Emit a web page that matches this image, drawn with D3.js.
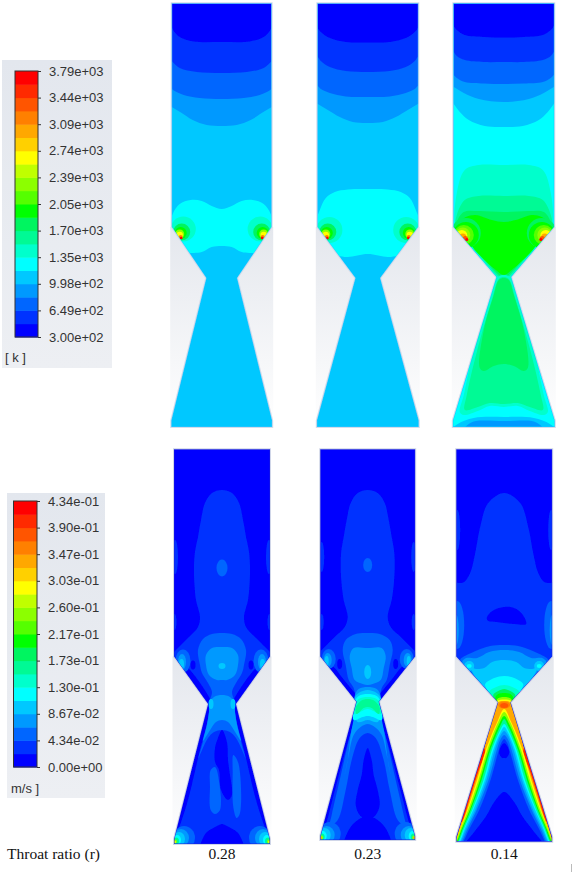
<!DOCTYPE html>
<html>
<head>
<meta charset="utf-8">
<script src="https://cdnjs.cloudflare.com/ajax/libs/d3/7.8.5/d3.min.js"></script>
<style>
  html, body { margin: 0; padding: 0; background: #fff; }
  svg { display: block; }
  .tick text { font-family: "Liberation Sans", Arial, sans-serif; font-size: 13px; fill: #333; }
</style>
</head>
<body>
<div id="chart"></div>
<script>
// colour bands of the solver legend, low to high
const bandColors = ["#0000ff", "#0033ff", "#0066ff", "#0099ff", "#00c8ff", "#00ffff", "#00ffcc", "#00fa95", "#00f560", "#00ff00",
  "#55ff00", "#8cff00", "#c0ff00", "#ffff00", "#ffd000", "#ffa800", "#ff8000", "#ff5500", "#ff2a00", "#ff0000"];
const tempTicks = ["3.00e+02", "6.49e+02", "9.98e+02", "1.35e+03", "1.70e+03", "2.05e+03", "2.39e+03", "2.74e+03", "3.09e+03", "3.44e+03", "3.79e+03"];
const velTicks = ["0.00e+00", "4.34e-02", "8.67e-02", "1.30e-01", "1.73e-01", "2.17e-01", "2.60e-01", "3.03e-01", "3.47e-01", "3.90e-01", "4.34e-01"];
const throatRatios = ["0.28", "0.23", "0.14"];

// contour layers, painted in order: [band, halfOutline] is mirrored about the axis,
// [band, outline, "twin"] is copied on both sides, [band, outline, "free"] is used as is,
// [band, dx, y, rx, ry] is an oval (mirrored if dx is not 0)
const tempTop1 = [
  [3, [[0,126],[15,125],[29,120],[40,113],[50,107],[62,100],[62,-10],[0,-10]]],
  [2, [[0,99],[22,98],[38,95],[47,91],[50,89],[60,80],[60,-10],[0,-10]]],
  [1, [[0,73],[25,72],[42,68],[50,61],[58,50],[58,-10],[0,-10]]],
  [0, [[0,42],[28,41.5],[42,37],[48,31],[50,27],[55,15],[55,-10],[0,-10]]],
  [5, [[0,209],[10,206],[20,201],[31,200],[42,204],[49,214],[52,230],[40,253],[35,253],[20,252],[10,247],[0,246]]],
  [6, 38.4, 229, 12.5, 12.5], [8, 40, 232, 8.5, 8.5], [9, 41, 233, 6, 6], [11, 42, 234, 4.5, 4.5],
  [13, 42, 235, 3.2, 3.2], [16, 41, 237, 2, 2], [19, 40.5, 238, 1.3, 1.3]
];
const tempTop2 = [
  [3, [[0,123],[15,122],[28,117],[40,110],[50,104],[62,97],[62,-10],[0,-10]]],
  [2, [[0,97],[22,96.5],[38,93],[47,89],[50,86],[60,78],[60,-10],[0,-10]]],
  [1, [[0,72],[22,71],[38,67],[47,61],[50,57],[58,47],[58,-10],[0,-10]]],
  [0, [[0,42.5],[22,42],[38,38],[47,32],[50,28],[55,15],[55,-10],[0,-10]]],
  [5, [[0,189],[20,189.5],[33,192],[42,198],[48,210],[53,228],[40,255],[30,256],[20,257],[0,254]]],
  [6, 38.4, 230, 13, 13], [8, 40, 232, 8.5, 8.5], [9, 41, 233, 6, 6], [11, 42, 234, 4.5, 4.5],
  [13, 42, 235, 3.2, 3.2], [16, 41, 237, 2, 2], [19, 40.5, 238, 1.3, 1.3]
];
const tempTop3 = [
  [4, [[0,127],[19,126],[35,120],[44,112],[50,104],[62,90],[62,-10],[0,-10]]],
  [3, [[0,102],[25,99],[40,93],[50,87],[62,80],[62,-10],[0,-10]]],
  [2, [[0,84],[20,83.5],[39,82],[47,78],[50,75],[60,65],[60,-10],[0,-10]]],
  [1, [[0,62],[20,62],[39,60],[47,56],[50,52],[60,40],[60,-10],[0,-10]]],
  [0, [[0,37.5],[20,37],[39,35],[47,30],[50,26],[55,15],[55,-10],[0,-10]]],
  [6, [[0,165],[25,165],[39,170],[47,193],[49,222],[46,230],[36,243],[20,262],[6,279],[0,283]]],
  [7, [[0,196],[25,196],[39,200],[47,215],[48,226],[36,241],[20,260],[6,276],[0,280]]],
  [8, [[0,212],[25,211],[40,212],[47,222],[47,228],[36,240],[20,258],[6,274],[0,278]]],
  [9, [[0,222],[12,220],[28,215],[38,217],[47,225],[46,232],[36,240],[29,250],[8,270],[0,275]]],
  [8, 38, 233, 15, 15], [9, 38, 235, 13, 13], [10, 40, 235, 10, 10], [11, 41, 235, 7.5, 7.5],
  [13, 42, 235.5, 5.5, 5.5], [15, 41, 237, 3.5, 3.5], [17, 38.5, 238.5, 2.5, 2.5], [19, 37, 239.5, 1.5, 1.5],
  [6, [[0,275],[6,277],[14,300],[30,350],[40,395],[44,412],[40,415],[26,411],[14,406],[0,407]]],
  [7, [[0,277],[5,279],[12,300],[27,352],[37,395],[39,410],[26,407],[14,403],[0,404]]],
  [8, [[0,278],[5,280],[10,295],[20,330],[24,368],[20,371],[10,366],[0,364]]],
  [4, [[0,417],[30,418],[46,424],[54,432],[0,432]]],
  [3, [[0,421],[28,421],[35,424],[40,430],[0,430]]]
];
const velBottom1 = [
  [1, [[0,490],[10,493],[17,503],[21,520],[24,537],[27,552],[28,567],[27.5,585],[26,600],[22,617],[24,627],[33,637],[41,645],[48,652],[54,658],[43,662],[34,668],[24,680],[16,692],[10.5,703],[12,712],[22,750],[34,800],[42,825],[50,846],[0,850]]],
  [1, 47, 557, 3, 17], [1, 47.5, 622, 2, 8],
  [2, [[0,633],[10,634],[19,639],[24,650],[22,665],[20,673],[14,683],[10,692],[12,700],[13,712],[18,738],[23.5,758],[20,750],[14,738],[8,732],[0,730]]],
  [0, [[0,730],[5,742],[6,760],[8,775],[10,795],[6,800],[-1,790],[-3,770],[-7,762],[-7,748],[-4,738]], "free"],
  [2, [[-11.3,770],[-7,767],[-2.7,783],[-2,810],[-7,814],[-11.3,810],[-12,787]], "free"],
  [2, [[11.3,755],[16.3,763],[18,813],[14.7,818],[11.3,807],[10.7,773]], "free"],
  [3, [[0,647],[10,648],[16,655],[16,665],[13,675],[5,680],[0,680]]],
  [3, [[0,695],[8,697],[12.5,703],[13,712],[15,725],[19,741],[15,735],[10,727],[6,722],[0,720]]],
  [4, 0, 666, 3.5, 3], [4, 11, 704, 2.5, 5], [2, 0, 568, 5.5, 8.5],
  [2, 39, 661, 7.5, 11.5], [3, 40, 662, 4, 8], [4, 40.5, 664, 2.5, 5], [0, 29, 665, 2.5, 4.5],
  [0, [[0,824],[5,826],[15,832],[19,838],[22,850],[0,850]]],
  [2, 38, 838, 11, 12], [3, 41, 838, 8, 9], [4, 43, 839, 6, 7], [5, 45, 840, 4, 5], [7, 46, 841, 3, 3.5], [11, 47, 841.5, 2, 2], [13, 47.5, 842, 1.3, 1.3]
];
const velBottom2 = [
  [1, [[0,490],[10,493],[17,503],[21,520],[24,537],[26.5,552],[27,567],[26,585],[24,600],[20,617],[23,627],[33,637],[41,645],[48,652],[54,657],[42,662],[33,668],[26,677],[17,688],[9,699],[11,712],[22,750],[34,795],[42,825],[50,845],[0,850]]],
  [1, 46, 557, 2.5, 15], [1, 46, 622, 2, 8],
  [2, [[0,633],[12,634],[22,640],[25,650],[22,665],[19,680],[14,688],[12,700],[12,712],[20,745],[28,780],[36,815],[38,826],[30,820],[22,790],[16,760],[8,738],[0,733]]],
  [3, [[0,648],[14,648],[18,656],[16,668],[13,680],[5,684],[0,685]]],
  [3, [[0,687],[9,689],[13,696],[13,712],[17,735],[20,760],[23,775],[19,755],[14,735],[7,727],[0,724]]],
  [2, 0, 565, 4.5, 7],
  [4, 0, 672, 3.5, 7],
  [4, [[0,690],[9,693],[13,698],[13,714],[10,722],[0,720]]],
  [5, [[0,694],[9,696],[13,702],[14,720],[5,717],[0,716]]],
  [6, [[0,697],[9,699],[13,705],[13,714],[0,709]]],
  [7, [[0,699],[7,701],[12,708],[11,714],[4,708],[0,707]]],
  [2, 39, 659, 7, 10], [3, 40, 660, 4, 7], [4, 41, 661, 2, 5], [0, 28, 664, 2.5, 5],
  [0, [[0,748],[4,760],[6,775],[10,790],[12,805],[8,815],[0,820]]],
  [0, [[0,816],[10,820],[19,830],[24,850],[0,850]]],
  [2, 38, 834, 11, 12], [3, 41, 835, 8, 9], [4, 43, 835, 6, 7], [5, 45, 836, 4, 5], [7, 46, 837, 3, 3.5], [11, 46.5, 837.5, 2, 2], [15, 47, 838, 1.3, 1.3]
];
const velBottom3 = [
  [1, [[0,493],[16,503],[24,527],[29,553],[34,573],[40,582],[46,583],[54,580],[54,660],[20,710],[0,710]]],
  [1, 47, 530, 3, 20], [2, 47, 625, 7, 24], [3, 48, 630, 2.5, 15],
  [0, [[-17.5,618],[-12,611],[0,607],[10,608],[18,614],[22,624],[10,624],[-8,622],[-16,621]], "free"],
  [2, [[0,645],[14,646],[33,653],[44,660],[38,668],[8,704],[0,704]]],
  [3, [[0,650],[15,652],[27,658],[38,658],[42,662],[36,668],[8,703],[0,703]]],
  [4, 35, 666, 5, 5], [5, 35, 666, 2.5, 2],
  [4, [[0,660],[12,662],[20,668],[28,669],[33,668],[8,703],[0,703]]],
  [5, [[0,676],[10,678],[19,684],[18,688],[7,703],[0,703]]],
  [6, [[0,685],[8,687],[15,692],[6,703],[0,703]]],
  [8, [[0,689],[6,691],[11,695],[7,703],[0,703]]],
  [9, [[0,693],[6,694],[9,698],[7,703],[0,703]]],
  [11, [[0,697],[7,699],[7.5,704],[0,704]]],
  [13, [[0,699.5],[7,701],[7,705],[0,705]]],
  [15, [[0,701],[5.5,702],[20.6,750],[29.9,780],[39.2,810],[46.9,835],[50,850],[0,850]]],
  [18, [[20,748],[28,772],[36,797],[44,822],[42.5,822],[34,797],[26,772],[19,752]], "twin"],
  [13, [[0,709],[7,722],[18.4,750],[27.2,780],[37,810],[46,835],[49,850],[0,850]]],
  [16, 0, 705, 6, 3.5], [17, 0, 705.5, 4, 2.5],
  [11, [[0,712],[6,722],[16.9,750],[25.7,780],[36,810],[45.7,835],[49,850],[0,850]]],
  [9, [[0,716],[5,724],[15.4,750],[24.2,780],[34.5,810],[44.7,835],[48,850],[0,850]]],
  [7, [[0,719],[4,726],[13.9,750],[22.7,780],[33.5,810],[43.7,835],[47,850],[0,850]]],
  [5, [[0,724],[4,730],[12.4,750],[20.7,780],[32,810],[42.7,835],[46,850],[0,850]]],
  [4, [[0,727],[4,733],[10.9,750],[19.2,780],[31,810],[41.7,835],[45,850],[0,850]]],
  [3, [[0,731],[4,736],[9.4,750],[17.7,780],[29,810],[40.7,835],[44,850],[0,850]]],
  [2, [[0,735],[4,740],[7.4,750],[15.7,780],[27.5,810],[39.2,835],[43,850],[0,850]]],
  [1, [[0,739],[3,743],[5.4,750],[13.7,780],[25,810],[37.7,835],[42,850],[0,850]]],
  [0, [[0,743],[3.5,747],[5,753],[2,758],[0,758]]],
  [0, [[0,792],[10,802],[18,816],[30,832],[42,850],[0,850]]]
];

const width = 575, height = 872;
const y = d3.scaleLinear().domain([0, height]).range([0, height]);

const svg = d3.select("#chart").append("svg")
    .attr("width", width)
    .attr("height", height);

const defs = svg.append("defs");
const bgGrad = defs.append("linearGradient").attr("id", "bgGrad").attr("x1", 0).attr("x2", 0).attr("y1", 0).attr("y2", 1);
bgGrad.append("stop").attr("offset", 0).attr("stop-color", "#e4e7ed");
bgGrad.append("stop").attr("offset", 1).attr("stop-color", "#ffffff");
const legGrad = defs.append("linearGradient").attr("id", "legGrad").attr("x1", 0).attr("x2", 0).attr("y1", 0).attr("y2", 1);
legGrad.append("stop").attr("offset", 0).attr("stop-color", "#e3e7ee");
legGrad.append("stop").attr("offset", 1).attr("stop-color", "#edeff3");
defs.append("filter").attr("id", "soft").append("feGaussianBlur").attr("stdDeviation", 0.4);

function colorbar(ticks, box, bar, unit, unitX, unitY) {
  const g = svg.append("g");
  g.append("rect").attr("x", box[0]).attr("y", box[1]).attr("width", box[2]).attr("height", box[3]).attr("fill", "url(#legGrad)");
  const bandScale = d3.scaleBand().domain(d3.range(bandColors.length)).range([bar[3], bar[1]]);
  g.selectAll(".band").data(bandColors).enter().append("rect")
      .attr("class", "band")
      .attr("x", bar[0])
      .attr("width", bar[2] - bar[0])
      .attr("y", (d, i) => bandScale(i))
      .attr("height", bandScale.bandwidth() + 0.5)
      .attr("fill", d => d);
  g.append("rect").attr("x", bar[0]).attr("y", bar[1]).attr("width", bar[2] - bar[0]).attr("height", bar[3] - bar[1])
      .attr("fill", "none").attr("stroke", "#333").attr("stroke-width", 1);
  const tickScale = d3.scalePoint().domain(ticks).range([bar[3], bar[1]]);
  const axis = g.append("g")
      .attr("transform", `translate(${bar[2]},0)`)
      .call(d3.axisRight(tickScale).tickSize(3).tickPadding(8));
  axis.select(".domain").remove();
  axis.selectAll("line").attr("stroke", "#333");
  g.append("text").attr("x", unitX).attr("y", unitY).text(unit)
      .attr("font-family", "Liberation Sans, Arial, sans-serif").attr("font-size", 13).attr("fill", "#333");
}
colorbar(tempTicks, [2, 60, 110, 308], [15, 71, 38, 337], "[ k ]", 5, 362);
colorbar(velTicks, [7, 493, 98, 305], [13.5, 501, 37, 767], "m/s ]", 11, 793);

const line = d3.line().curve(d3.curveCatmullRomClosed.alpha(0.5));

// half nozzle outline from the top wall round to the outlet
function nozzle(s) {
  const half = [[s.hw, s.top], [s.hw, s.shoulder], [s.throat, s.throatY], [s.hw + s.flare, s.exit], [s.hw + s.flare, s.bottom]];
  return half.concat(half.slice().reverse().map(p => [-p[0], p[1]]));
}

function drawPanel(s, layers, id) {
  const x = d3.scaleLinear().domain([-50, 50]).range([s.cx - 50, s.cx + 50]);
  const g = svg.append("g");
  g.append("rect")
      .attr("x", x(-s.hw - 1.5)).attr("width", x(s.hw + 1.5) - x(-s.hw - 1.5))
      .attr("y", y(s.shoulder)).attr("height", y(s.bottom + 2) - y(s.shoulder))
      .attr("fill", "url(#bgGrad)");
  const outline = d3.line().x(p => x(p[0])).y(p => y(p[1]))(nozzle(s)) + "Z";
  g.append("path").attr("d", outline).attr("fill", "none").attr("stroke", s.halo).attr("stroke-width", 2);
  defs.append("clipPath").attr("id", id).append("path").attr("d", outline);
  const inner = g.append("g").attr("clip-path", `url(#${id})`).append("g").attr("filter", "url(#soft)");
  inner.append("path").attr("d", outline).attr("fill", bandColors[s.base]);
  const toPx = pts => line(pts.map(p => [x(p[0]), y(p[1])]));
  layers.forEach(l => {
    const fill = bandColors[l[0]];
    if (Array.isArray(l[1])) {
      const pts = l[1];
      if (l[2] === "free") {
        inner.append("path").attr("d", toPx(pts)).attr("fill", fill);
      } else if (l[2] === "twin") {
        inner.append("path").attr("d", toPx(pts)).attr("fill", fill);
        inner.append("path").attr("d", toPx(pts.map(p => [-p[0], p[1]]))).attr("fill", fill);
      } else {
        const mirrored = pts.concat(pts.slice().reverse().filter(p => p[0] !== 0).map(p => [-p[0], p[1]]));
        inner.append("path").attr("d", toPx(mirrored)).attr("fill", fill);
      }
    } else {
      (l[1] === 0 ? [l[1]] : [l[1], -l[1]]).forEach(dx => {
        inner.append("ellipse")
            .attr("cx", x(dx)).attr("cy", y(l[2]))
            .attr("rx", x(l[3]) - x(0)).attr("ry", y(l[4]) - y(0))
            .attr("fill", fill);
      });
    }
  });
  inner.append("path").attr("d", outline).attr("fill", "none").attr("stroke", s.wall).attr("stroke-width", 1);
}

const common = { top: 3.3, shoulder: 227, throatY: 278, exit: 420.5, bottom: 427, flare: 0.5, base: 4, halo: "#d5dcea", wall: "#3cc4ff" };
const commonB = { top: 449.3, shoulder: 656.5, base: 0, flare: 0, halo: "#d0d6e8", wall: "#1c22e0" };

drawPanel(Object.assign({}, common, { cx: 221.7, hw: 50, throat: 15.5 }), tempTop1, "t1");
drawPanel(Object.assign({}, common, { cx: 367.8, hw: 50.5, throat: 12.5 }), tempTop2, "t2");
drawPanel(Object.assign({}, common, { cx: 503.8, hw: 50.5, throat: 7.5, throatY: 277, base: 5, wall: "#10c8ff" }), tempTop3, "t3");
drawPanel(Object.assign({}, commonB, { cx: 222, hw: 48, throat: 14, throatY: 704, exit: 839, bottom: 844 }), velBottom1, "b1");
drawPanel(Object.assign({}, commonB, { cx: 367.7, hw: 47.5, throat: 11.5, throatY: 701.7, exit: 836, bottom: 840 }), velBottom2, "b2");
drawPanel(Object.assign({}, commonB, { cx: 504.2, hw: 48, throat: 6.5, throatY: 702.3, exit: 837, bottom: 841.7 }), velBottom3, "b3");

// caption row
const captionX = d3.scaleOrdinal(throatRatios, [222, 367.7, 504.2]);
const serif = "Liberation Serif, Times New Roman, serif";
svg.append("text").attr("x", 7).attr("y", 859).text("Throat ratio (r)")
    .attr("font-family", serif).attr("font-size", 15.5).attr("fill", "#111");
svg.selectAll(".ratio").data(throatRatios).enter().append("text")
    .attr("class", "ratio")
    .attr("x", d => captionX(d))
    .attr("y", 859)
    .attr("text-anchor", "middle")
    .attr("font-family", serif).attr("font-size", 15.5).attr("fill", "#111")
    .text(d => d);
svg.append("rect").attr("x", 571).attr("y", 864).attr("width", 1).attr("height", 8).attr("fill", "#bbb");
</script>
</body>
</html>
